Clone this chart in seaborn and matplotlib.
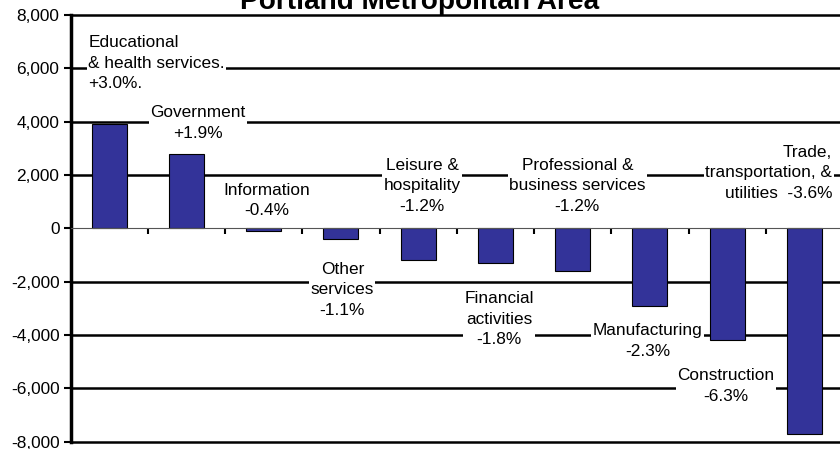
import pandas as pd
import seaborn as sns
from matplotlib import pyplot as plt
from matplotlib.ticker import FuncFormatter

# job change by industry, Portland metro
industries = [
    "Educational & health services",
    "Government",
    "Information",
    "Other services",
    "Leisure & hospitality",
    "Financial activities",
    "Professional & business services",
    "Manufacturing",
    "Construction",
    "Trade, transportation, & utilities",
]
job_change = [3900, 2800, -100, -400, -1200, -1300, -1600, -2900, -4200, -7700]
labels = [
    "Educational\n& health services.\n+3.0%.",
    "Government\n+1.9%",
    "Information\n-0.4%",
    "Other\nservices\n-1.1%",
    "Leisure &\nhospitality\n-1.2%",
    "Financial\nactivities\n-1.8%",
    "Professional &\nbusiness services\n-1.2%",
    "Manufacturing\n-2.3%",
    "Construction\n-6.3%",
    "Trade,\ntransportation, &\nutilities  -3.6%",
]
yticks = [-8000, -6000, -4000, -2000, 0, 2000, 4000, 6000, 8000]

# label placement (x in category units, y in data units, alignment)
label_pos = [
    (-0.27, 6200, "left"),
    (1.15, 3960, "center"),
    (2.04, 1040, "center"),
    (3.02, -2300, "center"),
    (4.05, 1600, "center"),
    (5.05, -3400, "center"),
    (6.06, 1600, "center"),
    (6.97, -4230, "center"),
    (7.98, -5900, "center"),
    (9.36, 2080, "right"),
]

df = pd.DataFrame({"industry": industries, "change": job_change})

sns.set_style("white")
plt.rcParams["font.family"] = ["Liberation Sans", "DejaVu Sans"]
plt.rcParams["text.color"] = "black"
plt.rcParams["ytick.color"] = "black"
plt.rcParams["xtick.color"] = "black"

fig = plt.figure(figsize=(8.4, 4.49), dpi=100)
ax = fig.add_axes([70.5 / 840, 7.3 / 449, 772.5 / 840, 426.7 / 449])

sns.barplot(data=df, x="industry", y="change", color="#333399",
            saturation=1, width=0.45, edgecolor="black", linewidth=0.8,
            zorder=3, ax=ax)

for yv in yticks:
    if yv != 0:
        ax.axhline(yv, color="black", lw=1.8, zorder=1, clip_on=False)

ax.set_xlim(-0.5, 9.5)
ax.set_ylim(-8000, 8000)
ax.set_yticks(yticks)
ax.yaxis.set_major_formatter(FuncFormatter(lambda v, p: f"{int(v):,}"))
ax.set_xticks([i + 0.5 for i in range(9)])
ax.set_xticklabels([])
ax.set_xlabel("")
ax.set_ylabel("")

for s in ["top", "right"]:
    ax.spines[s].set_visible(False)
ax.spines["left"].set_linewidth(2.5)
ax.spines["left"].set_color("black")
ax.spines["bottom"].set_position(("data", 0))
ax.spines["bottom"].set_color("#555555")
ax.spines["bottom"].set_linewidth(0.8)
ax.spines["bottom"].set_zorder(4)

ax.tick_params(axis="y", direction="out", length=5, width=1.5,
               labelsize=12.4, labelcolor="black", pad=3, left=True)
ax.tick_params(axis="x", direction="out", length=4, width=1.5,
               bottom=True)

for txt, (lx, ly, ha) in zip(labels, label_pos):
    ax.text(lx, ly, txt, ha=ha, va="center", fontsize=12.4, color="black",
            multialignment=ha, linespacing=1.47, zorder=5,
            bbox=dict(boxstyle="square,pad=0.08", facecolor="white",
                      edgecolor="none"))

fig.text(0.5, 1 - 9 / 449, "Portland Metropolitan Area", ha="center",
         va="baseline", fontsize=20.2, fontweight="bold", color="black")

fig.savefig("out.png", dpi=100)
